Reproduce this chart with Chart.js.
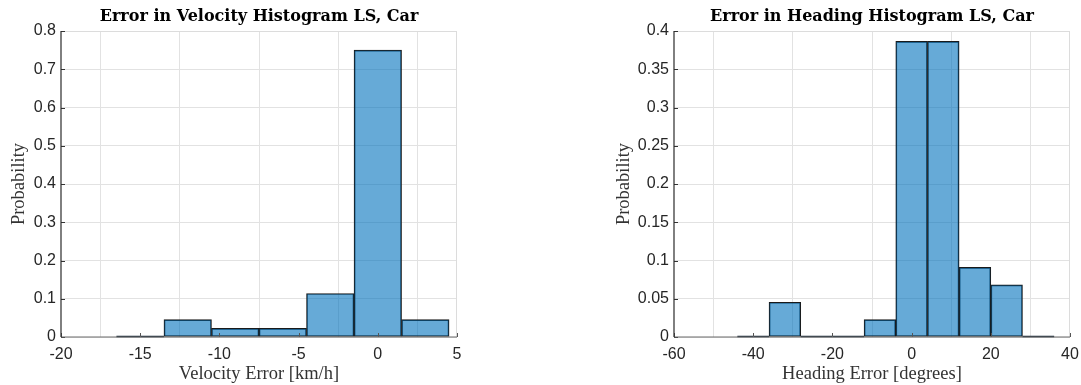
<!DOCTYPE html>
<html>
<head>
<meta charset="utf-8">
<script src="https://cdn.jsdelivr.net/npm/chart.js@4.4.1/dist/chart.umd.min.js"></script>
<style>
  html, body { margin: 0; padding: 0; background: #fff; }
  body { width: 1081px; height: 385px; position: relative; overflow: hidden; }
  .box { position: absolute; top: 0; height: 385px; }
  #b1 { left: 0; width: 520px; }
  #b2 { left: 600px; width: 490px; }
</style>
</head>
<body>
<div class="box" id="b1"><canvas id="c1"></canvas></div>
<div class="box" id="b2"><canvas id="c2"></canvas></div>
<script>
// ---- data ----
const velBinCenters = [-15, -12, -9, -6, -3, 0, 3];
const velProb = [0, 0.04545, 0.02273, 0.02273, 0.11364, 0.75, 0.04545];
const velXTicks = [-20, -15, -10, -5, 0, 5];
const velYTicks = [0, 0.1, 0.2, 0.3, 0.4, 0.5, 0.6, 0.7, 0.8];

const headBinCenters = [-40, -32, -24, -16, -8, 0, 8, 16, 24, 32];
const headProb = [0, 0.04545, 0, 0, 0.02273, 0.38636, 0.38636, 0.09091, 0.06818, 0];
const headXTicks = [-60, -40, -20, 0, 20, 40];
const headYTicks = [0, 0.05, 0.1, 0.15, 0.2, 0.25, 0.3, 0.35, 0.4];

const titles = ['Error in Velocity Histogram LS, Car', 'Error in Heading Histogram LS, Car'];
const xLabels = ['Velocity Error [km/h]', 'Heading Error [degrees]'];
const yLabel = 'Probability';

// ---- drawing ----
const boxPlugin = {
  id: 'matlabBox',
  afterDatasetsDraw(chart) {
    const {ctx, chartArea: a, scales} = chart;
    ctx.save();
    // zero-height bins drawn as dark edge lines on the baseline
    const meta = chart.getDatasetMeta(0);
    ctx.strokeStyle = '#1a2a38';
    ctx.lineWidth = 1.5;
    meta.data.forEach((bar, i) => {
      if (chart.data.datasets[0].data[i].y === 0) {
        const p = bar.getProps(['x', 'width', 'base'], true);
        ctx.beginPath();
        ctx.moveTo(p.x - p.width / 2, a.bottom - 0.5);
        ctx.lineTo(p.x + p.width / 2, a.bottom - 0.5);
        ctx.stroke();
      }
    });
    // top & right light borders
    ctx.strokeStyle = '#dcdcdc';
    ctx.lineWidth = 1;
    ctx.beginPath();
    ctx.moveTo(a.left, a.top + 0.5); ctx.lineTo(a.right, a.top + 0.5);
    ctx.moveTo(a.right - 0.5, a.top); ctx.lineTo(a.right - 0.5, a.bottom);
    ctx.stroke();
    // inward ticks
    ctx.strokeStyle = '#555';
    ctx.beginPath();
    scales.x.ticks.forEach(t => {
      const px = Math.round(scales.x.getPixelForValue(t.value)) + 0.5;
      ctx.moveTo(px, a.bottom); ctx.lineTo(px, a.bottom - 4);
    });
    ctx.stroke();
    ctx.strokeStyle = '#333';
    ctx.beginPath();
    scales.y.ticks.forEach(t => {
      const py = Math.round(scales.y.getPixelForValue(t.value)) + 0.5;
      ctx.moveTo(a.left, py); ctx.lineTo(a.left + 4, py);
    });
    ctx.stroke();
    // axes lines
    ctx.lineWidth = 1.2;
    ctx.strokeStyle = '#6a6a6a';
    ctx.beginPath();
    ctx.moveTo(a.left, a.bottom); ctx.lineTo(a.right, a.bottom);
    ctx.stroke();
    ctx.strokeStyle = '#2a2a2a';
    ctx.beginPath();
    ctx.moveTo(a.left, a.top); ctx.lineTo(a.left, a.bottom);
    ctx.stroke();
    ctx.restore();
  }
};

function makeChart(id, centers, probs, xTicks, yTicks, title, xLabel, yAxisWidth, padRight, yTitlePad, yDecimals) {
  const xMin = xTicks[0], xMax = xTicks[xTicks.length - 1];
  const yMax = yTicks[yTicks.length - 1];
  const step = xTicks[1] - xTicks[0];
  const ystep = yTicks[1] - yTicks[0];
  return new Chart(document.getElementById(id), {
    type: 'bar',
    data: {
      datasets: [{
        data: centers.map((c, i) => ({x: c, y: probs[i]})),
        backgroundColor: 'rgba(0,114,189,0.6)',
        borderColor: '#1a1a1a',
        borderWidth: 1,
        borderSkipped: false,
        barPercentage: 1,
        categoryPercentage: 1
      }]
    },
    options: {
      responsive: true,
      maintainAspectRatio: false,
      animation: false,
      layout: { padding: { left: 0, right: padRight, top: 0, bottom: 0 } },
      plugins: {
        legend: { display: false },
        tooltip: { enabled: false },
        title: {
          display: true,
          fullSize: false,
          text: title,
          color: '#000',
          font: { family: 'DejaVu Serif', weight: 'bold', size: 16, lineHeight: 1.2 },
          padding: { top: 7, bottom: 4.8 }
        }
      },
      scales: {
        x: {
          type: 'linear',
          min: xMin, max: xMax,
          offset: false,
          afterFit: s => { s.height = 48; },
          afterBuildTicks: s => { s.ticks = xTicks.map(v => ({value: v})); },
          ticks: {
            stepSize: step,
            color: '#262626',
            padding: 8,
            maxRotation: 0,
            autoSkip: false,
            font: { family: 'Liberation Sans', size: 16 },
            callback: v => String(v)
          },
          grid: { color: '#e2e2e2', drawTicks: false },
          border: { display: false },
          title: {
            display: true, text: xLabel, color: '#333',
            font: { family: 'Liberation Serif', size: 18.5, lineHeight: 1.2 },
            padding: { top: 0, bottom: 0 }
          }
        },
        y: {
          type: 'linear',
          min: 0, max: yMax,
          afterFit: s => { s.width = yAxisWidth; },
          afterBuildTicks: s => { s.ticks = yTicks.map(v => ({value: v})); },
          ticks: {
            stepSize: ystep,
            color: '#262626',
            padding: 5,
            autoSkip: false,
            font: { family: 'Liberation Sans', size: 16 },
            callback: v => String(parseFloat(v.toFixed(yDecimals)))
          },
          grid: { color: '#e2e2e2', drawTicks: false },
          border: { display: false },
          title: {
            display: true, text: yLabel, color: '#333',
            font: { family: 'Liberation Serif', size: 18.5, lineHeight: 1.2 },
            padding: { top: yTitlePad, bottom: 0 }
          }
        }
      }
    },
    plugins: [boxPlugin]
  });
}

makeChart('c1', velBinCenters, velProb, velXTicks, velYTicks, titles[0], xLabels[0], 61, 63, 8, 1);
makeChart('c2', headBinCenters, headProb, headXTicks, headYTicks, titles[1], xLabels[1], 74, 20, 13, 2);
</script>
</body>
</html>
